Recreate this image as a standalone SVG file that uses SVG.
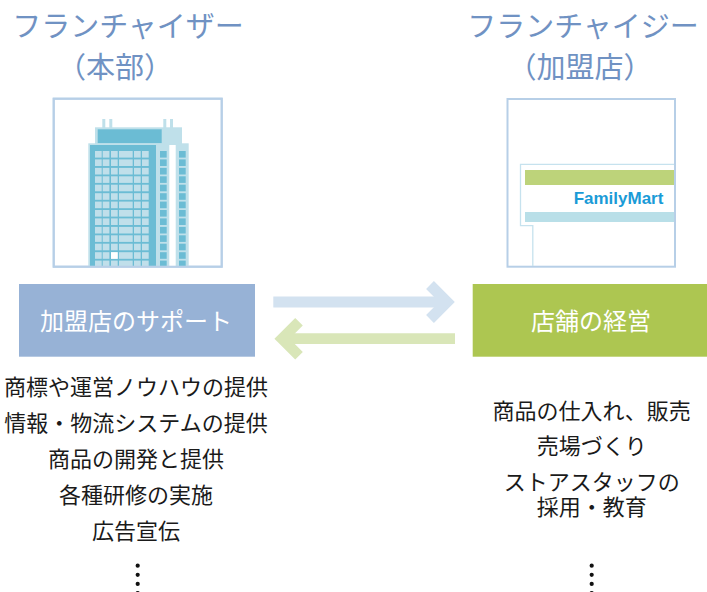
<svg xmlns="http://www.w3.org/2000/svg" width="707" height="592" viewBox="0 0 707 592">
  <style>
    .title { font-family: "Noto Sans CJK JP", "Noto Sans", sans-serif; font-size: 29px; fill: #7092c3; text-anchor: middle; }
    .boxlabel { font-family: "Noto Sans CJK JP", "Noto Sans", sans-serif; font-size: 24px; fill: #ffffff; text-anchor: middle; }
    .item { font-family: "Noto Sans CJK JP", "Noto Sans", sans-serif; font-size: 22px; fill: #1a1a1a; text-anchor: middle; }
    .frame { fill: #ffffff; stroke: #b7cfe7; stroke-width: 2; }
    .bl { fill: #bfe0ea; }
    .bd { fill: #6bbcd4; }
    .win { fill: #c0dfea; }
    .rwin { fill: #6bbcd4; }
    .dot { fill: #111111; }
  </style>
  <defs>
    <!-- one storey of windows on the main facade -->
    <g id="floor">
      <rect class="win" x="95" y="0" width="6.7" height="6.6"/>
      <rect class="win" x="102.7" y="0" width="6.7" height="6.6"/>
      <rect class="win" x="111" y="0" width="6.7" height="6.6"/>
      <rect class="win" x="119" y="0" width="13.7" height="6.6"/>
      <rect class="win" x="134" y="0" width="6.7" height="6.6"/>
      <rect class="win" x="142" y="0" width="6.7" height="6.6"/>
      <rect class="rwin" x="160" y="0" width="6.7" height="6.6"/>
      <rect class="rwin" x="179" y="0" width="6.7" height="6.6"/>
    </g>
    <clipPath id="hqClip">
      <rect x="53.7" y="98.7" width="168" height="168"/>
    </clipPath>
  </defs>

  <!-- headings -->
  <g id="title-franchisor">
    <text class="title" x="128" y="37">フランチャイザー</text>
    <text class="title" x="115" y="78">（本部）</text>
  </g>
  <g id="title-franchisee">
    <text class="title" x="583" y="37">フランチャイジー</text>
    <text class="title" x="580" y="78">（加盟店）</text>
  </g>

  <!-- head office building -->
  <g id="hq-illustration">
    <rect class="frame" x="53.7" y="98.7" width="168" height="168"/>
    <g clip-path="url(#hqClip)">
      <rect class="bl" x="102.3" y="119" width="3" height="10"/>
      <rect class="bl" x="109.3" y="119" width="3" height="10"/>
      <rect class="bl" x="163.3" y="119" width="3" height="10"/>
      <rect class="bl" x="170" y="119" width="3" height="10"/>
      <rect class="bl" x="95" y="127.3" width="87" height="17"/>
      <rect class="bd" x="97.7" y="129.3" width="64" height="14"/>
      <rect class="bl" x="88.3" y="143.3" width="100.4" height="125"/>
      <rect class="bd" x="90" y="145" width="66" height="125"/>
      <rect fill="#ffffff" x="169.3" y="145" width="6.4" height="125"/>
      <use href="#floor" y="151"/>
      <use href="#floor" y="159.4"/>
      <use href="#floor" y="167.9"/>
      <use href="#floor" y="176.3"/>
      <use href="#floor" y="184.7"/>
      <use href="#floor" y="193.2"/>
      <use href="#floor" y="201.6"/>
      <use href="#floor" y="210"/>
      <use href="#floor" y="218.4"/>
      <use href="#floor" y="226.9"/>
      <use href="#floor" y="235.3"/>
      <use href="#floor" y="243.7"/>
      <use href="#floor" y="252.2"/>
      <use href="#floor" y="260.6"/>
      <rect fill="#ffffff" x="111" y="252.2" width="6.7" height="6.6"/>
    </g>
    <rect x="53.7" y="98.7" width="168" height="168" fill="none" stroke="#b7cfe7" stroke-width="2"/>
  </g>

  <!-- convenience store front -->
  <g id="store-illustration">
    <rect class="frame" x="507.5" y="99" width="167.5" height="167.7"/>
    <path d="M674 164.3 H520.5 V225.7 H532.8 V266" fill="none" stroke="#c6e2ee" stroke-width="1.3"/>
    <rect fill="#bdd37a" x="525" y="170" width="149" height="15"/>
    <rect fill="#b9dfe8" x="525" y="212" width="149" height="10"/>
    <text x="618.5" y="204" font-family="Liberation Sans, Arial, sans-serif" font-weight="bold" font-size="17" fill="#1a9bd7" text-anchor="middle">FamilyMart</text>
  </g>

  <!-- role boxes -->
  <g id="support-box">
    <rect x="19" y="284" width="236" height="72.7" fill="#97b2d6"/>
    <text class="boxlabel" x="136" y="330">加盟店のサポート</text>
  </g>
  <g id="operation-box">
    <rect x="472.7" y="284" width="234.3" height="72.7" fill="#adc651"/>
    <text class="boxlabel" x="591" y="330">店舗の経営</text>
  </g>

  <!-- exchange arrows -->
  <g id="connectors" fill="none" stroke-linejoin="miter" stroke-linecap="butt">
    <g stroke="#d3e2f0" stroke-width="11">
      <line x1="273.3" y1="302" x2="447" y2="302"/>
      <polyline points="430,285 447,302 430,319"/>
    </g>
    <g stroke="#d9e6b8" stroke-width="10.7">
      <line x1="455" y1="338.7" x2="282" y2="338.7"/>
      <polyline points="299,321.7 282,338.7 299,355.7"/>
    </g>
  </g>

  <!-- head office responsibilities -->
  <g id="support-list">
    <text class="item" x="136" y="395">商標や運営ノウハウの提供</text>
    <text class="item" x="136" y="431">情報・物流システムの提供</text>
    <text class="item" x="136" y="467">商品の開発と提供</text>
    <text class="item" x="136" y="503">各種研修の実施</text>
    <text class="item" x="136" y="539">広告宣伝</text>
    <circle class="dot" cx="137.7" cy="565.7" r="2.1"/>
    <circle class="dot" cx="137.7" cy="574.8" r="2.1"/>
    <circle class="dot" cx="137.7" cy="583.9" r="2.1"/>
    <circle class="dot" cx="137.7" cy="593" r="2.1"/>
  </g>

  <!-- store responsibilities -->
  <g id="operation-list">
    <text class="item" x="591.7" y="418.5">商品の仕入れ、販売</text>
    <text class="item" x="591.7" y="453.5">売場づくり</text>
    <text class="item" x="591.7" y="490">ストアスタッフの</text>
    <text class="item" x="591.7" y="515">採用・教育</text>
    <circle class="dot" cx="591.7" cy="565.7" r="2.1"/>
    <circle class="dot" cx="591.7" cy="574.8" r="2.1"/>
    <circle class="dot" cx="591.7" cy="583.9" r="2.1"/>
    <circle class="dot" cx="591.7" cy="593" r="2.1"/>
  </g>
</svg>
